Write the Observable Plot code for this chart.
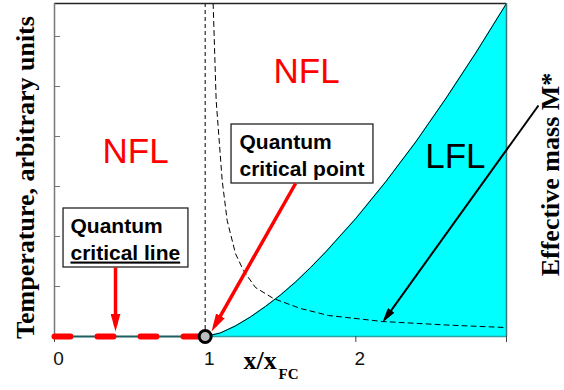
<!DOCTYPE html>
<html>
<head>
<meta charset="utf-8">
<script src="https://cdn.jsdelivr.net/npm/d3@7"></script>
<script src="https://cdn.jsdelivr.net/npm/@observablehq/plot@0.6"></script>
<style>
  html, body { margin: 0; padding: 0; background: #fff; }
  #chart { width: 564px; height: 390px; }
</style>
</head>
<body>
<div id="chart"></div>
<script>
// Phase diagram: temperature vs. x/x_FC
const xTicks = [0, 1, 2, 3];
const xTickLabels = ["0", "1", "2", ""];
const yTicks = [1, 2, 3, 4, 5, 6];

// LFL / NFL boundary, T(x) starting at the quantum critical point x = 1
const boundaryX = [1, 1.1, 1.2, 1.3, 1.4, 1.5, 1.6, 1.7, 1.8, 2.0, 2.2, 2.4, 2.6, 2.8, 3.0];
const boundaryT = [0, 0.07, 0.21, 0.39, 0.60, 0.83, 1.09, 1.38, 1.69, 2.36, 3.10, 3.90, 4.77, 5.69, 6.66];

// Effective mass M* (dashed), diverging towards x = 1
const massX = [1.053, 1.073, 1.113, 1.146, 1.201, 1.254, 1.334, 1.453, 1.633, 1.819, 2.177, 2.6, 2.99];
const massT = [6.66, 4.72, 3.12, 2.32, 1.66, 1.32, 0.98, 0.76, 0.56, 0.42, 0.30, 0.23, 0.18];

// Quantum critical line along T = 0 for x < 1, and the critical point
const criticalLineX = [0, 1];
const criticalPoint = [{x: 1, t: 0}];

// Region labels
const regionLabels = [
  {x: 0.538, t: 3.69, text: "NFL", color: "red"},
  {x: 1.673, t: 5.30, text: "NFL", color: "red"},
  {x: 2.661, t: 3.60, text: "LFL", color: "black"}
];

// Annotation boxes and their text lines
const boxes = [
  {x1: 0.06, x2: 0.889, t1: 1.38, t2: 2.56},
  {x1: 1.175, x2: 2.117, t1: 3.06, t2: 4.24}
];
const boxLines = [
  {x: 0.106, t: 2.214, text: "Quantum"},
  {x: 0.106, t: 1.674, text: "critical line"},
  {x: 1.228, t: 3.894, text: "Quantum"},
  {x: 1.228, t: 3.354, text: "critical point"}
];

// Pointer arrows
const arrows = [
  {x1: 0.405, t1: 1.38, x2: 0.405, t2: 0.22, color: "red"},
  {x1: 1.600, t1: 3.06, x2: 1.062, t2: 0.204, color: "red"},
  {x1: 3.212, t1: 4.62, x2: 2.192, t2: 0.344, color: "black"}
];

// Axis titles
const yTitle = [{x: -0.194, t: 3.18, text: "Temperature, arbitrary units"}];
const massTitle = [{x: 3.290, t: 3.24, text: "Effective mass M*"}];
const xTitle = [{x: 1.254, t: -0.474, text: "x/x"}];
const xTitleSub = [{x: 1.487, t: -0.744, text: "FC"}];

const boundary = boundaryX.map((x, i) => ({x, t: boundaryT[i]}));
const mass = massX.map((x, i) => ({x, t: massT[i]}));
const critLine = criticalLineX.map(x => ({x, t: 0}));

const serif = "Liberation Serif, Times New Roman, serif";
const sans = "Liberation Sans, Arial, sans-serif";

const W = 564, H = 390, ML = 54, MR = 58, MT = 3, MB = 54;
const frameWidth = W - ML - MR;

const chart = Plot.plot({
  width: W,
  height: H,
  marginLeft: ML,
  marginRight: MR,
  marginTop: MT,
  marginBottom: MB,
  x: {domain: [0, 3], axis: null},
  y: {domain: [0, 6.66], axis: null},
  style: {fontFamily: sans, fontSize: "19px", background: "white", color: "black", overflow: "visible"},
  marks: [
    // LFL region
    Plot.areaY(boundary, {x: "x", y1: 0, y2: "t", fill: "#00ffff"}),
    Plot.line(boundary, {x: "x", y: "t", stroke: "black", strokeWidth: 1}),
    // effective mass
    Plot.line(mass, {x: "x", y: "t", stroke: "black", strokeWidth: 1, strokeDasharray: "5,4"}),
    // x = 1
    Plot.ruleX([1], {stroke: "black", strokeWidth: 1, strokeDasharray: "4,3"}),
    // frame edges
    Plot.ruleY([6.66], {stroke: "#222", strokeWidth: 1.5}),
    Plot.ruleX([0], {stroke: "#777", strokeWidth: 1.5}),
    Plot.ruleX([3], {stroke: "#3b7a7a", strokeWidth: 1.5}),
    Plot.ruleY([0], {x1: 1, x2: 3, stroke: "#2aa5a5", strokeWidth: 1.5}),
    Plot.ruleY([0], {x1: 0, x2: 1, stroke: "#1d5f5f", strokeWidth: 2}),
    // inward y ticks
    Plot.tickY(yTicks, {y: d => d, stroke: "#777", strokeWidth: 1, insetRight: frameWidth - 6}),
    // x ticks and labels
    Plot.axisX({ticks: xTicks, tickSize: 6, tickFormat: () => "", stroke: "#444", label: null}),
    Plot.text(xTicks, {x: d => d, frameAnchor: "bottom", dy: 14.5, dx: 4, lineAnchor: "top",
      text: (d, i) => xTickLabels[i], fontSize: 19, fontFamily: sans, fill: "#111"}),
    // quantum critical line
    Plot.line(critLine, {x: "x", y: "t", stroke: "red", strokeWidth: 6, strokeDasharray: "16,27",
      strokeLinecap: "round"}),
    // annotation boxes
    Plot.rect(boxes, {x1: "x1", x2: "x2", y1: "t1", y2: "t2", fill: "white", stroke: "#222", strokeWidth: 1.3}),
    Plot.text(boxLines, {x: "x", y: "t", text: "text", textAnchor: "start", fontSize: 21,
      fontWeight: "bold", fontFamily: sans, fill: "black"}),
    // arrows
    Plot.link(arrows, {x1: "x1", y1: "t1", x2: "x2", y2: "t2", stroke: d => d.color,
      strokeWidth: d => d.color === "red" ? 3.5 : 2}),
    Plot.dot(criticalPoint, {x: "x", y: "t", r: 6, fill: "#bdbdbd", stroke: "black", strokeWidth: 3}),
    // region labels
    Plot.text(regionLabels, {x: "x", y: "t", text: "text", fill: d => d.color, fontSize: 35, fontFamily: sans}),
    // titles
    Plot.text(yTitle, {x: "x", y: "t", text: "text", rotate: -90, fontSize: 26, fontWeight: "bold", fontFamily: serif}),
    Plot.text(massTitle, {x: "x", y: "t", text: "text", rotate: -90, fontSize: 26, fontWeight: "bold", fontFamily: serif}),
    Plot.text(xTitle, {x: "x", y: "t", text: "text", textAnchor: "start", fontSize: 26, fontWeight: "bold", fontFamily: serif}),
    Plot.text(xTitleSub, {x: "x", y: "t", text: "text", textAnchor: "start", fontSize: 15, fontWeight: "bold", fontFamily: serif})
  ]
});

// filled arrowheads for the pointer links
const svg = d3.select(chart);
const defs = svg.insert("defs", ":first-child");
function head(id, color, len, wid, back) {
  defs.append("marker")
    .attr("id", id)
    .attr("viewBox", `0 0 ${len} ${wid}`)
    .attr("refX", len - back)
    .attr("refY", wid / 2)
    .attr("markerWidth", len)
    .attr("markerHeight", wid)
    .attr("markerUnits", "userSpaceOnUse")
    .attr("orient", "auto")
    .append("path")
    .attr("d", `M0,0L${len},${wid / 2}L0,${wid}Z`)
    .attr("fill", color);
}
head("head-red", "red", 18, 10, 6);
head("head-black", "black", 15, 8, 4);
svg.selectAll('g[aria-label="link"] path').each(function () {
  const s = this.getAttribute("stroke") || this.parentNode.getAttribute("stroke");
  d3.select(this).attr("marker-end", s === "red" ? "url(#head-red)" : "url(#head-black)");
});
// underline the "critical line" caption
svg.selectAll("text").filter(function () { return this.textContent === "critical line"; })
  .style("text-decoration", "underline");

document.getElementById("chart").appendChild(chart);
</script>
</body>
</html>
